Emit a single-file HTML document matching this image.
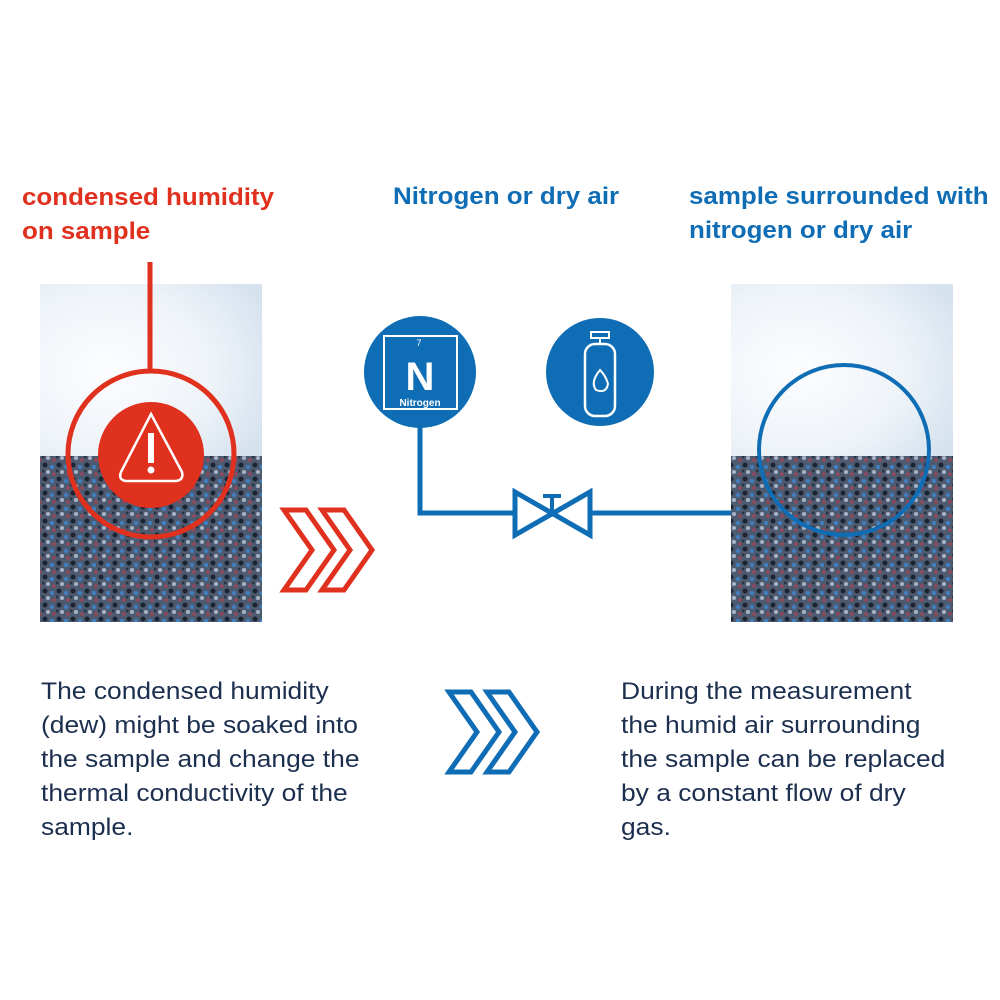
<!DOCTYPE html>
<html><head><meta charset="utf-8"><style>
body{margin:0;width:1000px;height:1000px;background:#fff;position:relative;overflow:hidden;font-family:"Liberation Sans",sans-serif}
.t{position:absolute;font-size:24px;line-height:34px;color:#1c2f4f;transform:scaleX(1.1);transform-origin:0 0;white-space:nowrap}
.h{position:absolute;font-size:24px;line-height:34px;font-weight:bold;transform:scaleX(1.08);transform-origin:0 0;white-space:nowrap}
</style></head><body>
<div class="h" style="left:22px;top:181px;color:#e0301e">condensed humidity<br>on sample</div>
<div class="h" style="left:393px;top:180px;color:#0f6db5">Nitrogen or dry air</div>
<div class="h" style="left:689px;top:180px;color:#0f6db5">sample surrounded with<br>nitrogen or dry air</div>
<div class="t" style="left:41px;top:675px">The condensed humidity<br>(dew) might be soaked into<br>the sample and change the<br>thermal conductivity of the<br>sample.</div>
<div class="t" style="left:621px;top:675px">During the measurement<br>the humid air surrounding<br>the sample can be replaced<br>by a constant flow of dry<br>gas.</div>
<svg width="1000" height="1000" style="position:absolute;left:0;top:0">
<defs>
<pattern id="g" width="14" height="14" patternUnits="userSpaceOnUse">
<rect width="14" height="14" fill="#4e5a70"/>
<circle cx="3" cy="3" r="2.5" fill="#1a2433"/>
<circle cx="10" cy="5" r="2.2" fill="#3f7fc0"/>
<circle cx="6" cy="10" r="2" fill="#a8b4c6"/>
<circle cx="12" cy="12" r="1.5" fill="#b04050"/>
<circle cx="1" cy="9" r="1.5" fill="#2a3446"/>
</pattern>
<radialGradient id="s" cx="0.3" cy="0.5" r="0.8"><stop offset="0" stop-color="#fcfdff"/><stop offset="0.6" stop-color="#eef3f8"/><stop offset="1" stop-color="#d6e2ee"/></radialGradient>
</defs>
<rect x="40" y="284" width="222" height="172" fill="url(#s)"/>
<rect x="40" y="456" width="222" height="166" fill="url(#g)"/>
<rect x="731" y="284" width="222" height="172" fill="url(#s)"/>
<rect x="731" y="456" width="222" height="166" fill="url(#g)"/>
<line x1="150" y1="262" x2="150" y2="372" stroke="#e0301e" stroke-width="5"/>
<circle cx="151" cy="454" r="83" fill="none" stroke="#e0301e" stroke-width="5"/>
<circle cx="151" cy="455" r="53" fill="#e0301e"/>
<path d="M151 414 L182 472 Q184 480 176 481 L126 481 Q118 480 121 472 Z" fill="none" stroke="#fff" stroke-width="2.5"/>
<rect x="148" y="433" width="6" height="30" fill="#fff"/><circle cx="151" cy="470" r="3.5" fill="#fff"/>
<g fill="#fff" stroke="#e0301e" stroke-width="5">
<polygon points="284,510 306,510 334,550 306,590 284,590 312,550"/>
<polygon points="322,510 344,510 372,550 344,590 322,590 350,550"/>
</g>
<g fill="#fff" stroke="#0f6db5" stroke-width="5">
<polygon points="449,692 471,692 499,732 471,772 449,772 477,732"/>
<polygon points="487,692 509,692 537,732 509,772 487,772 515,732"/>
</g>
<circle cx="844" cy="450" r="85" fill="none" stroke="#0f6db5" stroke-width="4"/>
<polyline points="420,420 420,513 515,513" fill="none" stroke="#0f6db5" stroke-width="5"/>
<line x1="590" y1="513" x2="731" y2="513" stroke="#0f6db5" stroke-width="5"/>
<polygon points="515,492 590,535 590,492 515,535" fill="none" stroke="#0f6db5" stroke-width="5" stroke-linejoin="miter"/>
<line x1="552" y1="496" x2="552" y2="513" stroke="#0f6db5" stroke-width="4"/>
<line x1="543" y1="496" x2="561" y2="496" stroke="#0f6db5" stroke-width="4"/>
<circle cx="420" cy="372" r="56" fill="#0f6db5"/>
<rect x="384" y="336" width="73" height="73" fill="none" stroke="#fff" stroke-width="2"/>
<text x="419" y="346" fill="#fff" font-size="9" text-anchor="middle" font-family="Liberation Sans">7</text>
<text x="420" y="390" fill="#fff" font-size="40" font-weight="bold" text-anchor="middle" font-family="Liberation Sans">N</text>
<text x="420" y="406" fill="#fff" font-size="10" font-weight="bold" text-anchor="middle" font-family="Liberation Sans">Nitrogen</text>
<circle cx="600" cy="372" r="54" fill="#0f6db5"/>
<rect x="585" y="344" width="30" height="72" rx="10" fill="none" stroke="#fff" stroke-width="2.5"/>
<rect x="591" y="332" width="18" height="6" fill="none" stroke="#fff" stroke-width="2"/>
<line x1="600" y1="338" x2="600" y2="344" stroke="#fff" stroke-width="2"/>
<path d="M600 370 Q590 382 596 390 Q606 394 608 384 Q606 376 600 370Z" fill="none" stroke="#fff" stroke-width="2"/>
</svg>
</body></html>
